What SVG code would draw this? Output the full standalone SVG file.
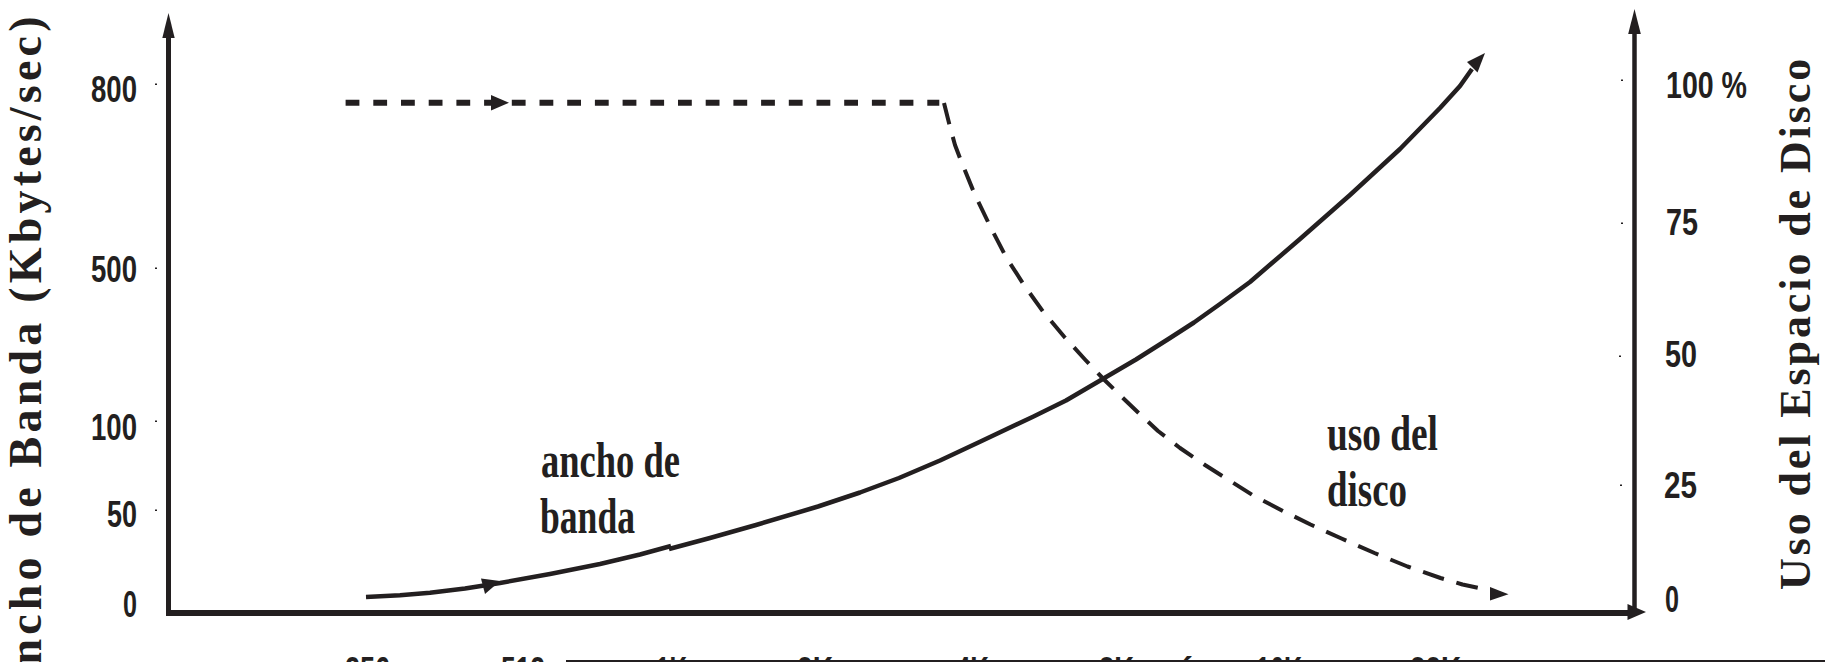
<svg xmlns="http://www.w3.org/2000/svg" width="1825" height="662" viewBox="0 0 1825 662">
<style>
.ink{fill:#231f20}
.axis{stroke:#231f20;fill:none}
.num{font-family:"Liberation Sans",Arial,sans-serif;font-weight:bold;font-size:36px;fill:#231f20}
.lbl{font-family:"Liberation Serif","Times New Roman",serif;font-weight:bold;font-size:50px;fill:#231f20}
.ttl{font-family:"Liberation Serif","Times New Roman",serif;font-weight:bold;fill:#231f20}
.bw{fill:none;stroke:#231f20;stroke-width:4.5;stroke-linejoin:round;stroke-linecap:butt}
.disk{fill:none;stroke:#231f20;stroke-width:4;stroke-dasharray:22 13;stroke-linejoin:round}
.flat{fill:none;stroke:#231f20;stroke-width:6;stroke-dasharray:13.8 13.9}
</style>
<rect width="1825" height="662" fill="#ffffff"/>

<g id="axes">
  <line class="axis" x1="168.5" y1="615" x2="168.5" y2="34" stroke-width="5"/>
  <polygon class="ink" points="168.5,13 162.3,38 174.7,38"/>
  <line class="axis" x1="1634.5" y1="613" x2="1634.5" y2="31" stroke-width="4.5"/>
  <polygon class="ink" points="1634.5,9 1628.2,34 1640.8,34"/>
  <line class="axis" x1="166" y1="613" x2="1630" y2="613" stroke-width="6"/>
  <polygon class="ink" points="1646,612 1627.5,604 1627.5,620"/>
  <line class="axis" x1="566" y1="661" x2="1825" y2="661" stroke-width="2"/>
</g>

<g id="ticks">
  <rect class="ink" x="155" y="83.5" width="2" height="1.5"/>
  <rect class="ink" x="155" y="267.5" width="2" height="1.5"/>
  <rect class="ink" x="155" y="420.5" width="2" height="1.5"/>
  <rect class="ink" x="155" y="509.5" width="2" height="1.5"/>
  <rect class="ink" x="1621" y="79.5" width="2" height="1.5"/>
  <rect class="ink" x="1621" y="222.5" width="2" height="1.5"/>
  <rect class="ink" x="1619" y="355.5" width="2" height="1.5"/>
  <rect class="ink" x="1620" y="484.5" width="2" height="1.5"/>
</g>

<g id="left-scale">
  <text class="num" x="91" y="102" textLength="46" lengthAdjust="spacingAndGlyphs">800</text>
  <text class="num" x="91" y="282" textLength="46" lengthAdjust="spacingAndGlyphs">500</text>
  <text class="num" x="91" y="440" textLength="46" lengthAdjust="spacingAndGlyphs">100</text>
  <text class="num" x="107" y="527" textLength="30" lengthAdjust="spacingAndGlyphs">50</text>
  <text class="num" x="123" y="617" textLength="14" lengthAdjust="spacingAndGlyphs">0</text>
</g>

<g id="right-scale">
  <text class="num" x="1666" y="98" textLength="81" lengthAdjust="spacingAndGlyphs">100 %</text>
  <text class="num" x="1666" y="235" textLength="32" lengthAdjust="spacingAndGlyphs">75</text>
  <text class="num" x="1665" y="367" textLength="32" lengthAdjust="spacingAndGlyphs">50</text>
  <text class="num" x="1664" y="498" textLength="33" lengthAdjust="spacingAndGlyphs">25</text>
  <text class="num" x="1665" y="612" textLength="14" lengthAdjust="spacingAndGlyphs">0</text>
</g>

<g id="x-scale">
  <text class="num" x="345" y="683" textLength="45" lengthAdjust="spacingAndGlyphs">256</text>
  <text class="num" x="501" y="683" textLength="44" lengthAdjust="spacingAndGlyphs">512</text>
  <text class="num" x="656" y="683" textLength="31" lengthAdjust="spacingAndGlyphs">1K</text>
  <text class="num" x="797" y="683" textLength="36" lengthAdjust="spacingAndGlyphs">2K</text>
  <text class="num" x="956" y="683" textLength="33" lengthAdjust="spacingAndGlyphs">4K</text>
  <text class="num" x="1099" y="683" textLength="35" lengthAdjust="spacingAndGlyphs">8K</text>
  <text class="num" x="1181" y="683">´</text>
  <text class="num" x="1256" y="683" textLength="46" lengthAdjust="spacingAndGlyphs">16K</text>
  <text class="num" x="1410" y="683" textLength="51" lengthAdjust="spacingAndGlyphs">32K</text>
</g>

<g id="titles">
  <text class="ttl" font-size="46" letter-spacing="4.2" transform="translate(41,0) rotate(-90)" x="-702" y="0">Ancho de Banda (Kbytes/sec)</text>
  <text class="ttl" font-size="44" letter-spacing="2.9" transform="translate(1810,0) rotate(-90)" x="-590" y="0">Uso del Espacio de Disco</text>
</g>

<g id="bandwidth-curve">
  <polyline class="bw" points="366,597 400,595.3 430,592.8 465,588.5 500,583 550,574 600,564 640,554.5 671,546"/>
  <polyline class="bw" points="669,549 710,538 756,525 818,506.5 860,492.5 899,478 940,460.5 980,441.7 1033,416.7 1066,400.5 1101,380 1136,359.5 1170,338 1194,322.5 1220,304 1250,282 1300,239 1350,195 1400,149 1440,108 1460,86 1472,69"/>
  <polygon class="ink" points="500,581 481,578.5 485,594"/>
  <polygon class="ink" points="1485,53 1467,62 1477.5,72.5"/>
  <text class="lbl" x="541" y="477" textLength="139" lengthAdjust="spacingAndGlyphs">ancho de</text>
  <text class="lbl" x="540" y="533" textLength="95" lengthAdjust="spacingAndGlyphs">banda</text>
</g>

<g id="disk-curve">
  <line class="flat" x1="345.6" y1="102.7" x2="939.3" y2="102.7"/>
  <polygon class="ink" points="509,102.7 491,95 491,110.5"/>
  <polyline class="disk" points="944,103 949.5,125 955,145 961.5,162 975,195 990.5,227 1006,257 1024,285 1043,311.5 1064,336.5 1085,359.5 1104.5,380 1124.5,399.5 1135.5,410 1158,431 1180,448 1205,465 1229.5,480.5 1254,496 1283,511 1310.5,524.5 1341.5,538.5 1374.5,553 1407.5,566.5 1440.5,578 1462.5,584.5 1481,588.5"/>
  <polygon class="ink" points="1508.5,594.3 1490,587 1490,600.5"/>
  <text class="lbl" x="1327" y="450" textLength="111" lengthAdjust="spacingAndGlyphs">uso del</text>
  <text class="lbl" x="1327" y="506" textLength="80" lengthAdjust="spacingAndGlyphs">disco</text>
</g>
</svg>
